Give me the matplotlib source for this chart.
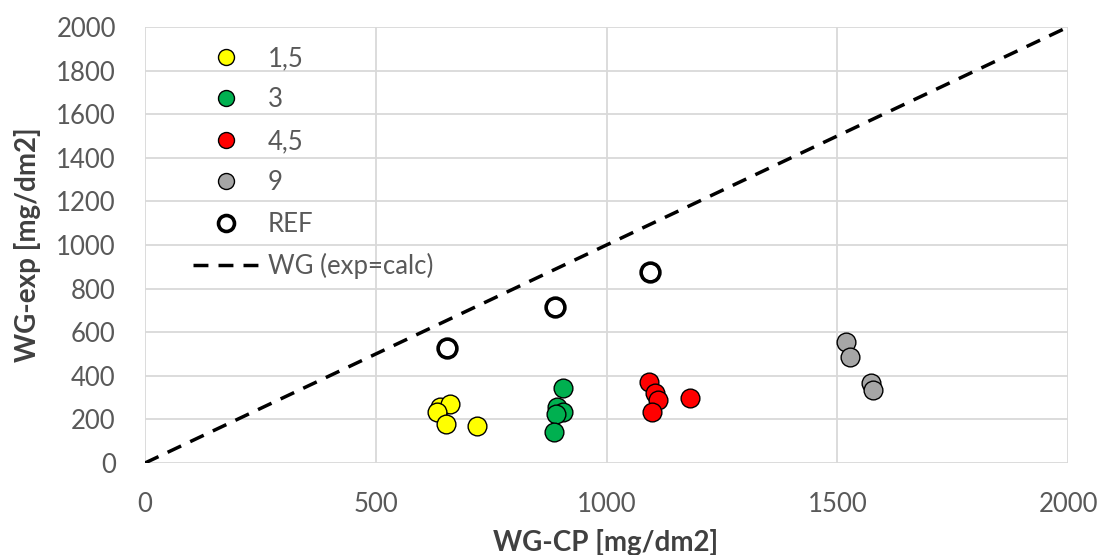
import matplotlib
matplotlib.use("Agg")
import matplotlib.pyplot as plt
from matplotlib.lines import Line2D

plt.rcParams['font.family'] = ['Lato', 'DejaVu Sans']

# Data
x_15 = [639, 661, 633, 652, 719]
y_15 = [257, 271, 234, 179, 170]
x_3 = [906, 893, 905, 890, 886]
y_3 = [344, 257, 235, 225, 142]
x_45 = [1092, 1105, 1112, 1099, 1181]
y_45 = [372, 321, 289, 234, 298]
x_9 = [1519, 1528, 1573, 1578]
y_9 = [555, 486, 367, 335]
x_ref = [655, 888, 1094]
y_ref = [527, 716, 876]
line_x = [0, 2000]
line_y = [0, 2000]
labels = ['1,5', '3', '4,5', '9', 'REF', 'WG (exp=calc)']
xticks = [0, 500, 1000, 1500, 2000]
yticks = list(range(0, 2001, 200))

W, H = 1101, 555
fig = plt.figure(figsize=(W / 100, H / 100), dpi=100)
ax = fig.add_axes([145 / W, (H - 463) / H, (1068 - 145) / W, (463 - 27) / H])

ms = 13.5
dash = (4.3, 2.9)
ax.plot(x_15, y_15, 'o', ms=ms, mfc='#ffff00', mec='black', mew=1.0, zorder=3)
ax.plot(x_3, y_3, 'o', ms=ms, mfc='#00b050', mec='black', mew=1.0, zorder=3)
ax.plot(x_45, y_45, 'o', ms=ms, mfc='#ff0000', mec='black', mew=1.0, zorder=3)
ax.plot(x_9, y_9, 'o', ms=ms, mfc='#a6a6a6', mec='black', mew=1.0, zorder=3)
ax.plot(x_ref, y_ref, 'o', ms=ms, mfc='white', mec='black', mew=2.6, zorder=3)
ax.plot(line_x, line_y, color='black', lw=2.5, dashes=dash, zorder=2)

ax.set_xlim(0, 2000)
ax.set_ylim(0, 2000)
ax.set_xticks(xticks)
ax.set_yticks(yticks)
ax.grid(True, color='#d9d9d9', lw=1.3)
ax.set_axisbelow(True)
for s in ax.spines.values():
    s.set_visible(False)
ax.tick_params(length=0, labelsize=18.5, labelcolor='#595959')
ax.tick_params(axis='y', pad=21)
ax.tick_params(axis='x', pad=21)
ax.set_xlabel('WG-CP [mg/dm2]', fontsize=20, fontweight='bold', color='#404040', labelpad=2)
ax.set_ylabel('WG-exp [mg/dm2]', fontsize=20, fontweight='bold', color='#404040', labelpad=6)
ax.xaxis.set_label_coords((606 - 145) / (1068 - 145), -(542 - 463) / (463 - 27))
ax.xaxis.label.set_va('center')
ax.yaxis.set_label_coords(-(145 - 28) / (1068 - 145), 0.5)
ax.yaxis.label.set_va('center')

lms = 11.5
handles = [
    Line2D([], [], ls='none', marker='o', ms=lms, mfc='#ffff00', mec='black', mew=1.0),
    Line2D([], [], ls='none', marker='o', ms=lms, mfc='#00b050', mec='black', mew=1.0),
    Line2D([], [], ls='none', marker='o', ms=lms, mfc='#ff0000', mec='black', mew=1.0),
    Line2D([], [], ls='none', marker='o', ms=lms, mfc='#a6a6a6', mec='black', mew=1.0),
    Line2D([], [], ls='none', marker='o', ms=lms, mfc='white', mec='black', mew=2.6),
    Line2D([], [], color='black', lw=2.5, dashes=dash),
]
leg = fig.legend(handles, labels, loc='upper left', bbox_to_anchor=(193 / W, 1 - 46 / H),
                 frameon=False, fontsize=18.5, labelcolor='#595959',
                 borderpad=0, borderaxespad=0,
                 handlelength=2.6, handletextpad=0.3, labelspacing=0.64)

fig.savefig('out.png', dpi=100, facecolor='white')
